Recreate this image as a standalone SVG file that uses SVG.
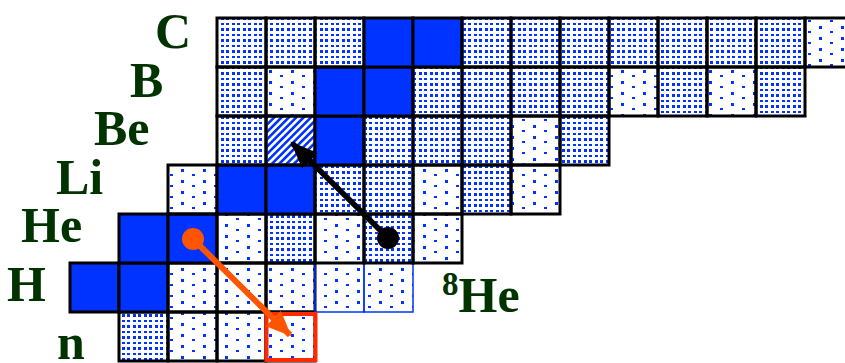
<svg xmlns="http://www.w3.org/2000/svg" width="845" height="363" viewBox="0 0 845 363">
<defs>
<pattern id="pd" patternUnits="userSpaceOnUse" width="11" height="11"><g fill="#0033ff" shape-rendering="crispEdges"><rect x="1" y="1" width="3" height="2"/><rect x="6" y="1" width="3" height="2"/><rect x="1" y="6" width="3" height="3"/><rect x="6" y="6" width="3" height="3"/></g></pattern>
<pattern id="ps" patternUnits="userSpaceOnUse" width="22" height="11"><g fill="#0033ff" shape-rendering="crispEdges"><rect x="5" y="4" width="3" height="3"/><rect x="16" y="9" width="3" height="2"/></g></pattern>
<pattern id="ph" patternUnits="userSpaceOnUse" width="5.2" height="5.2" patternTransform="rotate(45)"><rect x="0" y="0" width="2.6" height="5.2" fill="#0033ff"/></pattern>
<marker id="ab" markerWidth="5" markerHeight="4" refX="4.6" refY="2" orient="auto" markerUnits="strokeWidth"><path d="M0,0 L5,2 L0,4 Z" fill="#000"/></marker>
<marker id="ao" markerWidth="4.2" markerHeight="3.6" refX="3.9" refY="1.8" orient="auto" markerUnits="strokeWidth"><path d="M0,0 L4.2,1.8 L0,3.6 Z" fill="#ff5500"/></marker>
</defs>
<style>
.c{stroke:#000;stroke-width:3}
.b{stroke:#0033ff;stroke-width:1.5}
.d{fill:url(#pd)}
.s{fill:url(#ps)}
.f{fill:#0033ff}
.h{fill:url(#ph)}
.lbl{font-family:"Liberation Serif","Times New Roman",serif;font-weight:bold;font-size:50px;fill:#003300}
</style>
<rect width="845" height="363" fill="#fff"/>
<g id="row-n">
<rect class="c d" x="119" y="312" width="49" height="49"/>
<rect class="c s" x="168" y="312" width="49" height="49"/>
<rect class="c s" x="217" y="312" width="49" height="49"/>
<rect class="c s" x="266" y="312" width="49" height="49"/>
</g>
<g id="row-H">
<rect class="c f" x="70" y="263" width="49" height="49"/>
<rect class="c f" x="119" y="263" width="49" height="49"/>
<rect class="c s" x="168" y="263" width="49" height="49"/>
<rect class="c s" x="217" y="263" width="49" height="49"/>
<rect class="c s" x="266" y="263" width="49" height="49"/>
<rect class="b s" x="315" y="263" width="49" height="49"/>
<rect class="b s" x="364" y="263" width="49" height="49"/>
</g>
<g id="row-He">
<rect class="c f" x="119" y="214" width="49" height="49"/>
<rect class="c f" x="168" y="214" width="49" height="49"/>
<rect class="c s" x="217" y="214" width="49" height="49"/>
<rect class="c d" x="266" y="214" width="49" height="49"/>
<rect class="c s" x="315" y="214" width="49" height="49"/>
<rect class="c d" x="364" y="214" width="49" height="49"/>
<rect class="c s" x="413" y="214" width="49" height="49"/>
</g>
<g id="row-Li">
<rect class="c s" x="168" y="165" width="49" height="49"/>
<rect class="c f" x="217" y="165" width="49" height="49"/>
<rect class="c f" x="266" y="165" width="49" height="49"/>
<rect class="c d" x="315" y="165" width="49" height="49"/>
<rect class="c d" x="364" y="165" width="49" height="49"/>
<rect class="c s" x="413" y="165" width="49" height="49"/>
<rect class="c d" x="462" y="165" width="49" height="49"/>
<rect class="c s" x="511" y="165" width="49" height="49"/>
</g>
<g id="row-Be">
<rect class="c d" x="217" y="116" width="49" height="49"/>
<rect class="c h" x="266" y="116" width="49" height="49"/>
<rect class="c f" x="315" y="116" width="49" height="49"/>
<rect class="c d" x="364" y="116" width="49" height="49"/>
<rect class="c d" x="413" y="116" width="49" height="49"/>
<rect class="c d" x="462" y="116" width="49" height="49"/>
<rect class="c s" x="511" y="116" width="49" height="49"/>
<rect class="c d" x="560" y="116" width="49" height="49"/>
</g>
<g id="row-B">
<rect class="c d" x="217" y="67" width="49" height="49"/>
<rect class="c s" x="266" y="67" width="49" height="49"/>
<rect class="c f" x="315" y="67" width="49" height="49"/>
<rect class="c f" x="364" y="67" width="49" height="49"/>
<rect class="c d" x="413" y="67" width="49" height="49"/>
<rect class="c d" x="462" y="67" width="49" height="49"/>
<rect class="c d" x="511" y="67" width="49" height="49"/>
<rect class="c d" x="560" y="67" width="49" height="49"/>
<rect class="c s" x="609" y="67" width="49" height="49"/>
<rect class="c d" x="658" y="67" width="49" height="49"/>
<rect class="c s" x="707" y="67" width="49" height="49"/>
<rect class="c d" x="756" y="67" width="49" height="49"/>
</g>
<g id="row-C">
<rect class="c d" x="217" y="18" width="49" height="49"/>
<rect class="c d" x="266" y="18" width="49" height="49"/>
<rect class="c d" x="315" y="18" width="49" height="49"/>
<rect class="c f" x="364" y="18" width="49" height="49"/>
<rect class="c f" x="413" y="18" width="49" height="49"/>
<rect class="c d" x="462" y="18" width="49" height="49"/>
<rect class="c d" x="511" y="18" width="49" height="49"/>
<rect class="c d" x="560" y="18" width="49" height="49"/>
<rect class="c d" x="609" y="18" width="49" height="49"/>
<rect class="c d" x="658" y="18" width="49" height="49"/>
<rect class="c d" x="707" y="18" width="49" height="49"/>
<rect class="c d" x="756" y="18" width="49" height="49"/>
<rect class="c s" x="805" y="18" width="49" height="49"/>
</g>
<g id="target">
<rect x="266.5" y="314" width="49" height="46" fill="none" stroke="#ff2a00" stroke-width="4"/>
</g>
<g id="labels">
<text class="lbl" x="155" y="48">C</text>
<text class="lbl" x="130" y="97">B</text>
<text class="lbl" x="94" y="145">Be</text>
<text class="lbl" x="56" y="194">Li</text>
<text class="lbl" x="21" y="242">He</text>
<text class="lbl" x="7" y="301">H</text>
<text class="lbl" x="57" y="359">n</text>
<text class="lbl" x="442" y="312"><tspan font-size="33" dy="-17">8</tspan><tspan dy="17">He</tspan></text>
</g>
<g id="connectors">
<circle cx="193" cy="239" r="11" fill="#ff5500"/>
<line x1="193" y1="239" x2="290" y2="335" stroke="#ff5500" stroke-width="6" marker-end="url(#ao)"/>
<circle cx="388" cy="238" r="11" fill="#000"/>
<line x1="388" y1="238" x2="292" y2="143" stroke="#000" stroke-width="5.5" marker-end="url(#ab)"/>
</g>
</svg>
